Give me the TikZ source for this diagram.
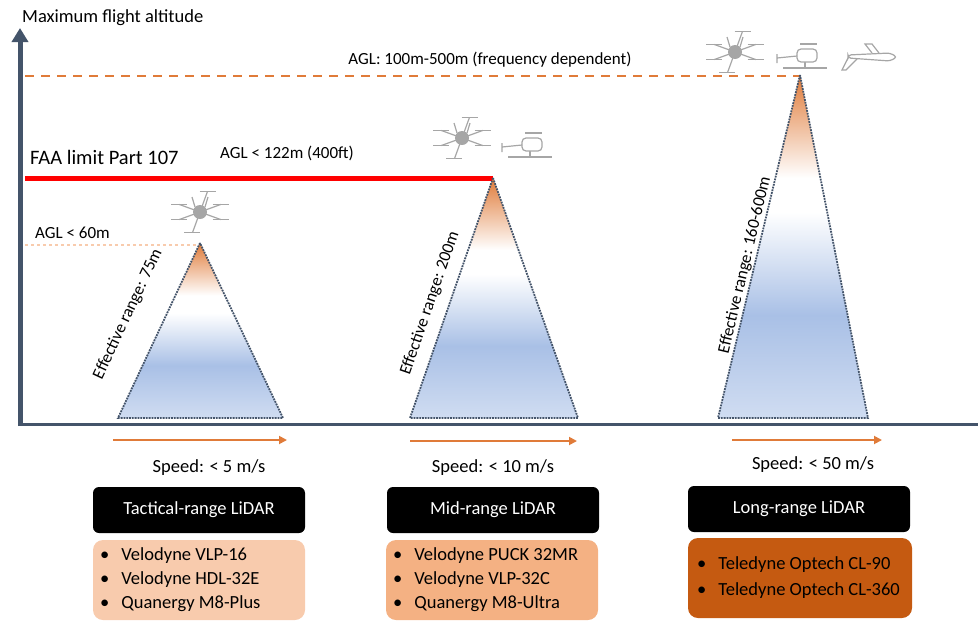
\documentclass[tikz,border=0pt]{standalone}
\usepackage{fontspec}
\setmainfont{Carlito}
\usetikzlibrary{arrows.meta,calc}
\definecolor{axisc}{HTML}{44546A}
\definecolor{orng}{HTML}{E07B39}
\definecolor{c1}{HTML}{F8CBAD}
\definecolor{c2}{HTML}{F4B183}
\definecolor{c3}{HTML}{C55A11}
\definecolor{bl}{HTML}{A9C0E6}
\definecolor{icon}{HTML}{A6A6A6}
\pgfdeclareverticalshading{trishade}{100bp}{color(0bp)=(bl!55);color(25bp)=(bl!55);color(40bp)=(bl);color(55bp)=(white);color(60bp)=(white);color(75bp)=(orng);color(100bp)=(orng)}
\tikzset{
  lbl/.style={font=\fontsize{17}{19}\selectfont, inner sep=0pt},
  big/.style={font=\fontsize{18.5}{21}\selectfont, inner sep=0pt},
  ttl/.style={fill=black, text=white, rounded corners=6pt, minimum width=212pt, minimum height=46pt, font=\fontsize{18.5}{21}\selectfont, inner sep=0pt},
  lst/.style={rounded corners=10pt, minimum width=212pt, minimum height=80pt, inner sep=0pt},
  lsttxt/.style={anchor=west, align=left, inner sep=0pt, font=\fontsize{18.5}{24}\selectfont},
  spd/.style={orng, line width=1.8pt, -{Triangle[length=8pt,width=8pt]}},
  tri/.style={draw=axisc, densely dotted, line width=1.8pt},
  icn/.style={icon, line width=1.2pt},
}
\newcommand{\drone}[1]{\begin{scope}[shift={#1}]
 \fill[icon] (0,0) circle (7pt);
 \foreach \a in {20,70,160,200,250,340}{\draw[icn] (0,0) -- (\a:22pt); \draw[icn] ($(\a:22pt)+(-8pt,0)$) -- ++(16pt,0);}
 \draw[icn] (-5pt,5pt) -- (-8pt,15pt) (5pt,5pt) -- (8pt,15pt);
\end{scope}}
\newcommand{\heli}[1]{\begin{scope}[shift={#1}]
 \draw[icn] (-22pt,-12pt) -- (22pt,-12pt) (0,-12pt) -- (0,-6pt);
 \draw[icn, fill=white, rounded corners=4pt] (-8pt,-6pt) rectangle (12pt,7pt);
 \draw[icn] (-8pt,0) -- (-28pt,-2pt) (-28pt,-7pt) -- (-28pt,2pt);
 \draw[icn] (-5pt,12pt) -- (12pt,12pt);
\end{scope}}
\begin{document}
\begin{tikzpicture}[x=1pt,y=-1pt]
\useasboundingbox (0,0) rectangle (980,627);
% axes
\draw[axisc, line width=3pt] (20,424) -- (978,424);
\draw[axisc, line width=5pt, -{Triangle[length=14pt,width=16pt]}] (20,426) -- (20,28);
\node[big, anchor=west] (ytitle) at (22,18) {Maximum flight altitude};
% levels
\draw[orng, dash pattern=on 9pt off 7pt, line width=1.3pt] (25,76) -- (800,76);
\node[lbl] (l500) at (490,60) {AGL: 100m-500m (frequency dependent)};
\draw[red, line width=5pt] (25,178) -- (493,178);
\node[anchor=west, inner sep=0pt, font=\fontsize{20.5}{23}\selectfont] (faa) at (30,157) {FAA limit Part 107};
\node[lbl, anchor=west] (l122) at (220,153) {AGL < 122m (400ft)};
\draw[c1, dashed, line width=1.2pt] (25,245) -- (200,245);
\node[lbl, anchor=west] (l60) at (35,233) {AGL < 60m};
% triangles
\foreach \ax/\ay/\bl/\br in {200/243/118/283, 493/178/410/578, 800/75/718/868}{
  \shade[shading=trishade] (\ax,\ay) -- (\bl,418) -- (\br,418) -- cycle;
  \draw[tri] (\ax,\ay) -- (\bl,418) -- (\br,418) -- cycle;
}
\node[lbl, rotate=64.9] (r1) at (128,314) {Effective range: 75m};
\node[lbl, rotate=70.9] (r2) at (430,303) {Effective range: 200m};
\node[lbl, rotate=76.6] (r3) at (745,265) {Effective range: 160-600m};
% icons
\drone{(200,212)}
\drone{(462,138)}
\heli{(530,145)}
\drone{(735,52)}
\heli{(805,56)}
\begin{scope}[shift={(870,58)}]
 \draw[icn, fill=white, rounded corners=3pt] (-22pt,0) -- (20pt,-3pt) -- (27pt,1pt) -- (20pt,5pt) -- (-22pt,3pt) -- cycle;
 \draw[icn] (-22pt,0) -- (-28pt,-12pt) -- (-24pt,-12pt) -- (-13pt,-1pt);
 \draw[icn] (2pt,5pt) -- (-5pt,14pt) -- (2pt,14pt) -- (9pt,5pt);
\end{scope}
% speeds
\coordinate (s1a) at (113,440); \coordinate (s1b) at (287,440);
\coordinate (s2a) at (410,441); \coordinate (s2b) at (577,441);
\coordinate (s3a) at (732,440); \coordinate (s3b) at (882,440);
\draw[spd] (s1a) -- (s1b); \draw[spd] (s2a) -- (s2b); \draw[spd] (s3a) -- (s3b);
\node[big] (sp1) at (209,468) {Speed: < 5 m/s};
\node[big] (sp2) at (493,468) {Speed: < 10 m/s};
\node[big] (sp3) at (813,465) {Speed: < 50 m/s};
% boxes
\node[ttl] (t1) at (199,510) {Tactical-range LiDAR};
\node[ttl] (t2) at (493,510) {Mid-range LiDAR};
\node[ttl, minimum width=222pt] (t3) at (799,509) {Long-range LiDAR};
\node[lst, fill=c1] (b1) at (199,580) {};
\node[lst, fill=c2] (b2) at (492,580) {};
\node[lst, fill=c3, minimum width=224pt] (b3) at (800,578) {};
\node[lsttxt] (b1t) at (100,580) {•\hspace{12pt}Velodyne VLP-16\\ •\hspace{12pt}Velodyne HDL-32E\\ •\hspace{12pt}Quanergy M8-Plus};
\node[lsttxt] (b2t) at (393,580) {•\hspace{12pt}Velodyne PUCK 32MR\\ •\hspace{12pt}Velodyne VLP-32C\\ •\hspace{12pt}Quanergy M8-Ultra};
\node[lsttxt] (b3t) at (697,578) {•\hspace{12pt}Teledyne Optech CL-90\\[2pt] •\hspace{12pt}Teledyne Optech CL-360};
\end{tikzpicture}
\end{document}
